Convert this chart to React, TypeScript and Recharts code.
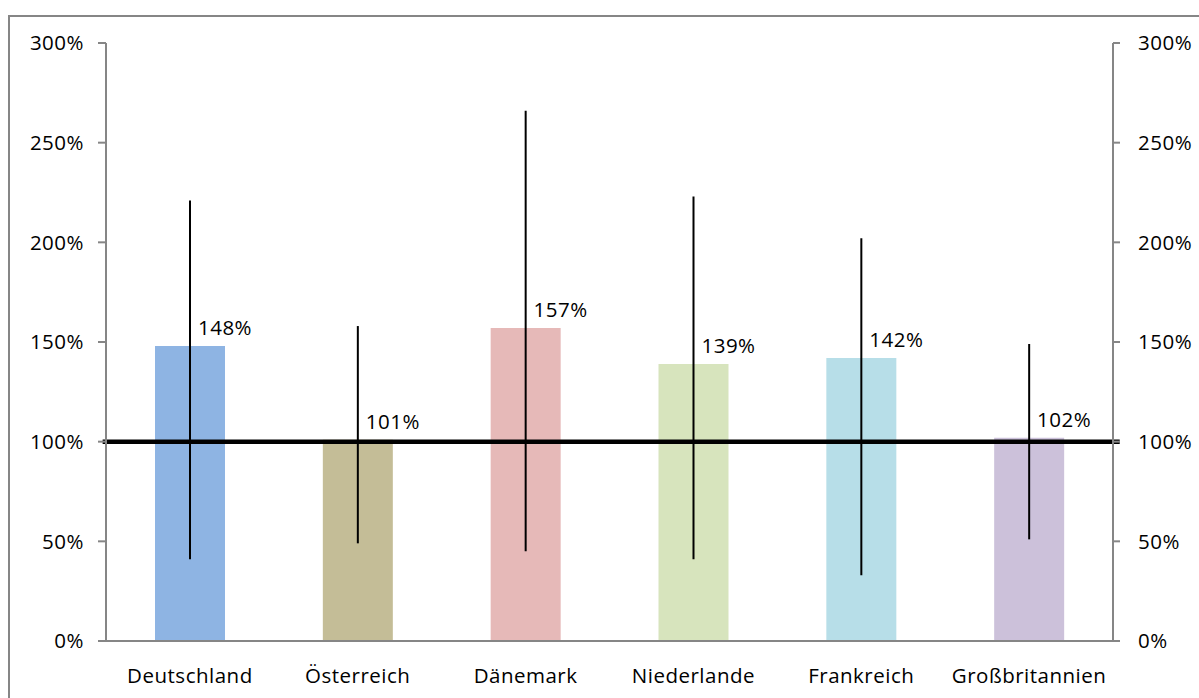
import React from 'react';
import { ComposedChart, Bar, Line, XAxis, YAxis, ErrorBar, Cell, LabelList, ReferenceLine } from 'recharts';

const categories = ['Deutschland', 'Österreich', 'Dänemark', 'Niederlande', 'Frankreich', 'Großbritannien'];
const values = [148, 101, 157, 139, 142, 102];
const lows = [41, 49, 45, 41, 33, 51];
const highs = [221, 158, 266, 223, 202, 149];
const colors = ['#8EB4E3', '#C4BD97', '#E6B9B8', '#D7E4BD', '#B7DEE8', '#CCC1DA'];
const yTicks = [0, 50, 100, 150, 200, 250, 300];
const boundaryTicks = [0, 1, 2, 3, 4, 5, 6];
const baseline = 100;

const data = categories.map((name, i) => ({
  name,
  value: values[i],
  err: [values[i] - lows[i], highs[i] - values[i]],
  idx: i + 0.5,
}));

const FONT = '"Open Sans", "DejaVu Sans", sans-serif';
const AXIS = '#868686';
const textStyle = { fontFamily: FONT, fontSize: 20.5, letterSpacing: 0.5 };

const renderLabel = (props: any) => {
  const { x, y, width, value } = props;
  return (
    <text
      x={Number(x) + Number(width)}
      y={Number(y) - 11}
      textAnchor="middle"
      fill="#000"
      style={textStyle}
    >
      {value}%
    </text>
  );
};

export default function App() {
  return (
    <div style={{ position: 'absolute', left: 0, top: 0, width: 1199, height: 698, overflow: 'hidden', background: '#fff' }}>
      <div
        style={{
          position: 'absolute',
          left: 8,
          top: 15,
          width: 1210,
          height: 710,
          border: `2px solid ${AXIS}`,
          boxSizing: 'border-box',
        }}
      />
      <div style={{ position: 'absolute', left: 0, top: 0 }}>
        <ComposedChart
          width={1199}
          height={698}
          data={data}
          margin={{ top: 43, right: 0, left: 0, bottom: 0 }}
          barCategoryGap={0}
        >
          <XAxis
            xAxisId="b"
            type="number"
            dataKey="idx"
            domain={[0, 6]}
            ticks={boundaryTicks}
            height={0}
            tick={() => <g />}
            tickLine={{ stroke: AXIS, strokeWidth: 2 }}
            tickSize={7}
            axisLine={false}
            allowDataOverflow
          />
          <XAxis
            dataKey="name"
            height={57}
            tickLine={false}
            tickSize={7}
            tickMargin={20}
            axisLine={{ stroke: AXIS, strokeWidth: 2 }}
            tick={{ fill: '#000', ...textStyle }}
            interval={0}
          />
          <YAxis
            yAxisId="l"
            width={106}
            domain={[0, 300]}
            ticks={yTicks}
            tickFormatter={(v) => `${v}%`}
            tickSize={8}
            tickMargin={14}
            axisLine={{ stroke: AXIS, strokeWidth: 2 }}
            tickLine={{ stroke: AXIS, strokeWidth: 2 }}
            tick={{ fill: '#000', ...textStyle }}
            interval={0}
          />
          <YAxis
            yAxisId="r"
            orientation="right"
            width={86}
            domain={[0, 300]}
            ticks={yTicks}
            tickFormatter={(v) => `${v}%`}
            tickSize={7}
            tickMargin={18}
            axisLine={{ stroke: AXIS, strokeWidth: 2 }}
            tickLine={{ stroke: AXIS, strokeWidth: 2 }}
            tick={{ fill: '#000', ...textStyle }}
            interval={0}
          />
          <Bar dataKey="value" yAxisId="l" barSize={70} isAnimationActive={false}>
            {data.map((d, i) => (
              <Cell key={d.name} fill={colors[i]} />
            ))}
            <ErrorBar dataKey="err" width={0} stroke="#000" strokeWidth={2} direction="y" />
            <LabelList dataKey="value" content={renderLabel} />
          </Bar>
          <Line
            dataKey="value"
            xAxisId="b"
            yAxisId="r"
            stroke="none"
            dot={false}
            activeDot={false}
            legendType="none"
            isAnimationActive={false}
          />
          <ReferenceLine
            xAxisId="b"
            yAxisId="l"
            segment={[{ x: -0.02, y: baseline }, { x: 6.04, y: baseline }]}
            ifOverflow="visible"
            stroke="#000"
            strokeWidth={4.5}
          />
        </ComposedChart>
      </div>
    </div>
  );
}
